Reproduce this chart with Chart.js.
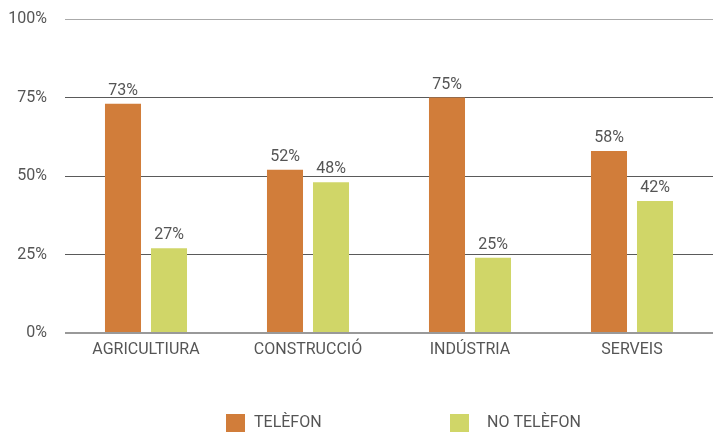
<!DOCTYPE html>
<html>
<head>
<meta charset="utf-8">
<script src="https://cdn.jsdelivr.net/npm/chart.js@4"></script>
<style>
  html, body { margin: 0; padding: 0; background: #ffffff; }
  #wrap { position: relative; width: 714px; height: 432px; }
</style>
</head>
<body>
<div id="wrap"><canvas id="c" width="714" height="432"></canvas></div>
<script>
const categories = ['AGRICULTIURA', 'CONSTRUCCIÓ', 'INDÚSTRIA', 'SERVEIS'];
const seriesNames = ['TELÈFON', 'NO TELÈFON'];
const telefon = [73, 52, 75, 58];
const noTelefon = [27, 48, 24, 42];
const telefonLabels = ['73%', '52%', '75%', '58%'];
const noTelefonLabels = ['27%', '48%', '25%', '42%'];
const yTicks = [0, 25, 50, 75, 100];

const ORANGE = '#D17D3A';
const GREEN = '#D0D668';
const TEXT = '#555555';
const FONT = 'Roboto, "DejaVu Sans", sans-serif';

const valueLabelPlugin = {
  id: 'valueLabels',
  afterDatasetsDraw(chart) {
    const ctx = chart.ctx;
    ctx.save();
    ctx.font = '16px ' + FONT;
    ctx.fillStyle = TEXT;
    ctx.textAlign = 'center';
    ctx.textBaseline = 'alphabetic';
    chart.data.datasets.forEach((ds, di) => {
      const meta = chart.getDatasetMeta(di);
      meta.data.forEach((bar, i) => {
        ctx.fillText(ds.valueLabels[i], bar.x, bar.y - 9);
      });
    });
    ctx.restore();
  }
};

const legendPlugin = {
  id: 'customLegend',
  afterDraw(chart) {
    const ctx = chart.ctx;
    const items = [
      { box: 226, text: 254 },
      { box: 450, text: 487 }
    ];
    ctx.save();
    ctx.font = '16px ' + FONT;
    ctx.textBaseline = 'middle';
    ctx.textAlign = 'left';
    chart.data.datasets.forEach((ds, i) => {
      const it = items[i];
      ctx.fillStyle = ds.backgroundColor;
      ctx.fillRect(it.box, 414, 19, 18);
      ctx.fillStyle = TEXT;
      ctx.fillText(ds.label, it.text, 423);
    });
    ctx.restore();
  }
};

new Chart(document.getElementById('c'), {
  type: 'bar',
  data: {
    labels: categories,
    datasets: [
      { label: seriesNames[0], data: telefon, valueLabels: telefonLabels, backgroundColor: ORANGE, barPercentage: 0.783, categoryPercentage: 0.568 },
      { label: seriesNames[1], data: noTelefon, valueLabels: noTelefonLabels, backgroundColor: GREEN, barPercentage: 0.783, categoryPercentage: 0.568 }
    ]
  },
  options: {
    responsive: false,
    animation: false,
    devicePixelRatio: 1,
    layout: { autoPadding: false, padding: { top: 19, right: 1, left: 0, bottom: 0 } },
    plugins: {
      legend: { display: false },
      tooltip: { enabled: false }
    },
    scales: {
      x: {
        grid: { display: false, drawTicks: false },
        border: { display: false },
        ticks: { color: TEXT, font: { family: FONT, size: 16 }, padding: 7 },
        afterFit(scale) { scale.height = 99; }
      },
      y: {
        min: 0, max: 100,
        afterBuildTicks(scale) { scale.ticks = yTicks.map(v => ({ value: v })); },
        grid: {
          drawTicks: false,
          color(ctx) {
            const v = ctx.tick && ctx.tick.value;
            if (v === 100) return '#AAAAAA';
            if (v === 0) return '#999999';
            return '#5A5A5A';
          },
          lineWidth(ctx) { return (ctx.tick && ctx.tick.value === 0) ? 2 : 1; }
        },
        border: { display: false },
        ticks: {
          color: TEXT,
          font: { family: FONT, size: 16 },
          padding: 18,
          callback: v => v + '%'
        },
        afterFit(scale) { scale.width = 65; scale.paddingTop = 0; scale.paddingBottom = 0; }
      }
    }
  },
  plugins: [valueLabelPlugin, legendPlugin]
});
</script>
</body>
</html>
